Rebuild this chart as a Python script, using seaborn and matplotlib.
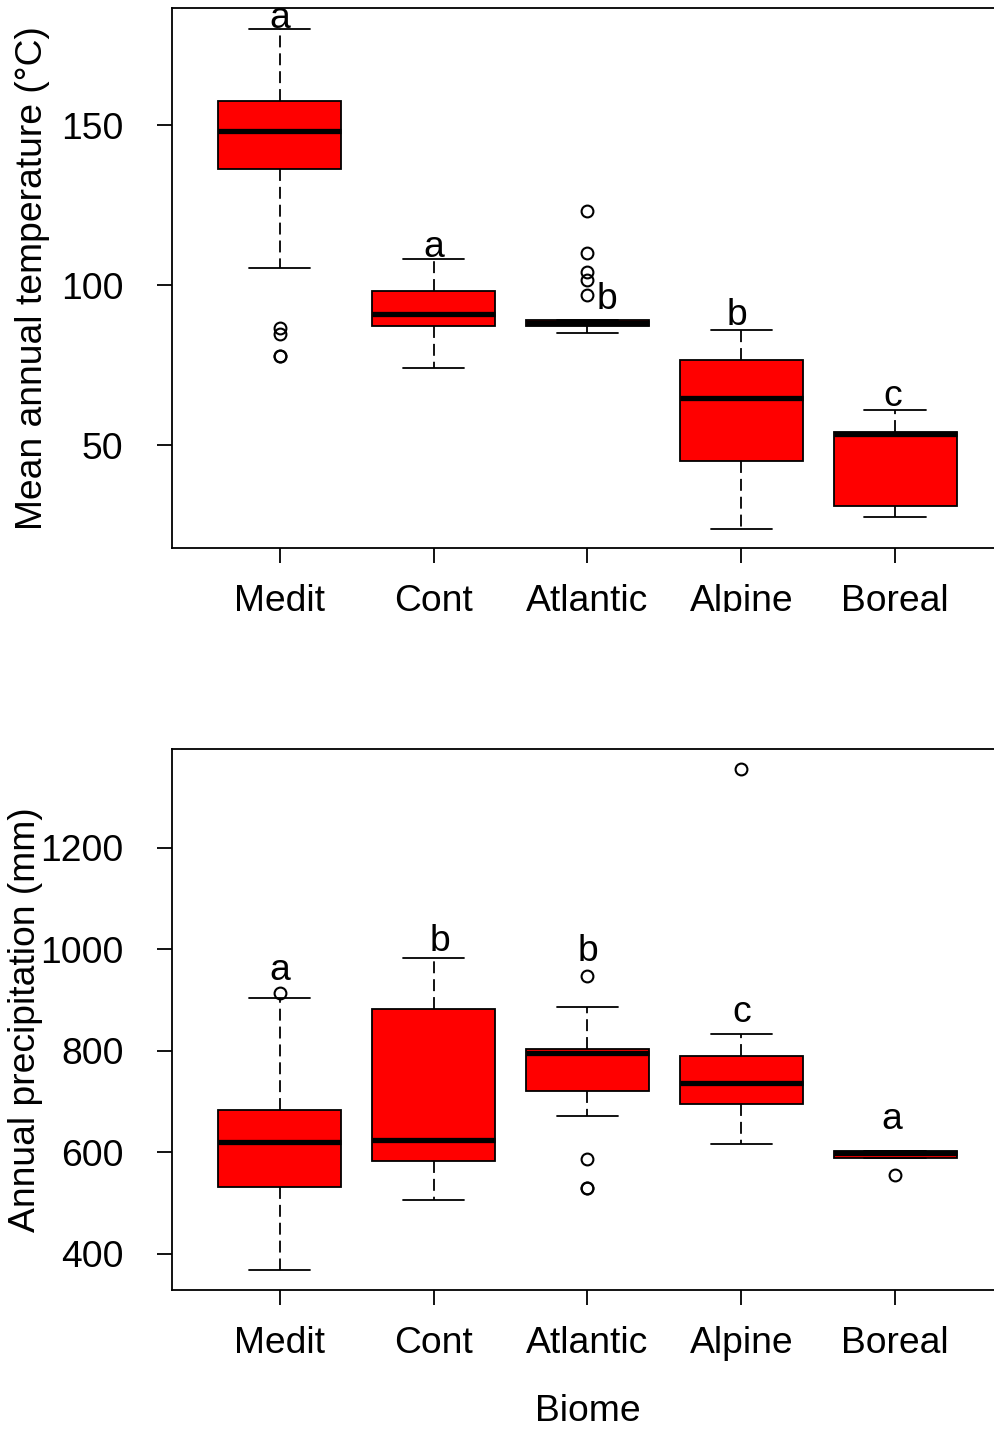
import matplotlib
matplotlib.use("Agg")
import matplotlib.pyplot as plt
from matplotlib.patches import Rectangle
import seaborn as sns

# ---------------- data ----------------
biomes = ["Medit", "Cont", "Atlantic", "Alpine", "Boreal"]

# Mean annual temperature (five-number summaries + outliers)
temp_whislo = [105.3, 74.1, 85.0, 23.8, 27.7]
temp_q1 = [136.3, 87.3, 87.3, 45.1, 31.0]
temp_med = [148.3, 91.0, 88.3, 64.7, 53.5]
temp_q3 = [157.7, 98.2, 89.2, 76.7, 54.25]
temp_whishi = [180.0, 108.1, 89.2, 86.0, 61.0]
temp_fliers = [[86.6, 84.8, 77.9, 77.9], [], [123.2, 110.2, 104.25, 101.7, 97.0], [], []]
temp_letters = ["a", "a", "b", "b", "c"]
temp_letter_y = [180.4, 108.8, 92.6, 87.6, 62.1]

# Annual precipitation
prec_whislo = [368.3, 506.2, 671.5, 616.6, 588.4]
prec_q1 = [530.8, 581.5, 719.4, 695.4, 588.4]
prec_med = [620.0, 623.6, 795.3, 736.2, 599.0]
prec_q3 = [682.0, 882.6, 802.4, 788.4, 602.6]
prec_whishi = [903.1, 982.5, 885.5, 833.3, 602.6]
prec_fliers = [[913.5], [], [947.4, 586.4, 528.7, 528.7], [1354.0], [554.7]]
prec_letters = ["a", "b", "b", "c", "a"]
prec_letter_y = [938.9, 995.3, 975.6, 856.2, 644.7]

# ---------------- style ----------------
sns.set_style("ticks")
plt.rcParams["font.family"] = ["Liberation Sans", "DejaVu Sans"]
FS = 26.8
LW = 1.3

fig = plt.figure(figsize=(9.94, 14.29), dpi=100)
ax_top = fig.add_axes([0.17304, 0.61638, 0.8360, 0.37810])
ax_bot = fig.add_axes([0.17304, 0.09727, 0.8360, 0.37866])


def build_stats(lo, q1, med, q3, hi, fl):
    return [dict(whislo=a, q1=b, med=c, q3=d, whishi=e, fliers=f, label=n)
            for a, b, c, d, e, f, n in zip(lo, q1, med, q3, hi, fl, biomes)]


def draw(ax, stats, letters, letter_y, letter_x, ylim, yticks, ylabel, label_x):
    positions = list(range(1, len(biomes) + 1))
    ax.bxp(stats, positions=positions, widths=0.8, capwidths=0.4,
           patch_artist=True, manage_ticks=False,
           boxprops=dict(facecolor="#FF0000", edgecolor="black", linewidth=LW),
           medianprops=dict(color="black", linewidth=3.8, solid_capstyle="butt"),
           whiskerprops=dict(color="black", linewidth=LW, linestyle=(0, (6.6, 3.3))),
           capprops=dict(color="black", linewidth=LW),
           flierprops=dict(marker="o", markerfacecolor="none", markeredgecolor="black",
                           markersize=8.5, markeredgewidth=1.5, linestyle="none"))
    for x, t, y in zip(letter_x, letters, letter_y):
        ax.text(x, y, t, ha="center", va="baseline", fontsize=FS, color="black")
    ax.set_xlim(0.3, 5.7)
    ax.set_ylim(*ylim)
    ax.set_xticks(positions)
    ax.set_xticklabels(biomes)
    ax.set_yticks(yticks)
    ax.set_yticklabels([str(v) for v in yticks])
    ax.tick_params(axis="both", which="major", length=11, width=LW, direction="out",
                   color="black", labelsize=FS, labelcolor="black")
    ax.tick_params(axis="y", pad=24)
    ax.tick_params(axis="x", pad=15)
    for sp in ax.spines.values():
        sp.set_visible(True)
        sp.set_color("black")
        sp.set_linewidth(LW)
    ax.set_ylabel(ylabel, fontsize=FS, color="black")
    ax.yaxis.set_label_coords(label_x, 0.5)
    ax.set_facecolor("white")


draw(ax_top,
     build_stats(temp_whislo, temp_q1, temp_med, temp_q3, temp_whishi, temp_fliers),
     temp_letters, temp_letter_y, [1.0, 2.0, 3.125, 3.97, 4.98],
     (17.8, 186.7), [50, 100, 150], "Mean annual temperature (°C)", -0.147)

draw(ax_bot,
     build_stats(prec_whislo, prec_q1, prec_med, prec_q3, prec_whishi, prec_fliers),
     prec_letters, prec_letter_y, [1.0, 2.04, 3.0, 4.0, 4.98],
     (328.1, 1394.3), [400, 600, 800, 1000, 1200], "Annual precipitation (mm)", -0.155)

ax_bot.set_xlabel("Biome", fontsize=FS, color="black", labelpad=24)

# the upper panel's category labels are cut off in the original figure
fig.add_artist(Rectangle((0, 1 - 745 / 1429), 1, (745 - 612) / 1429,
                         transform=fig.transFigure, facecolor="white",
                         edgecolor="none", zorder=10))

fig.savefig("out.png", dpi=100, facecolor="white")
